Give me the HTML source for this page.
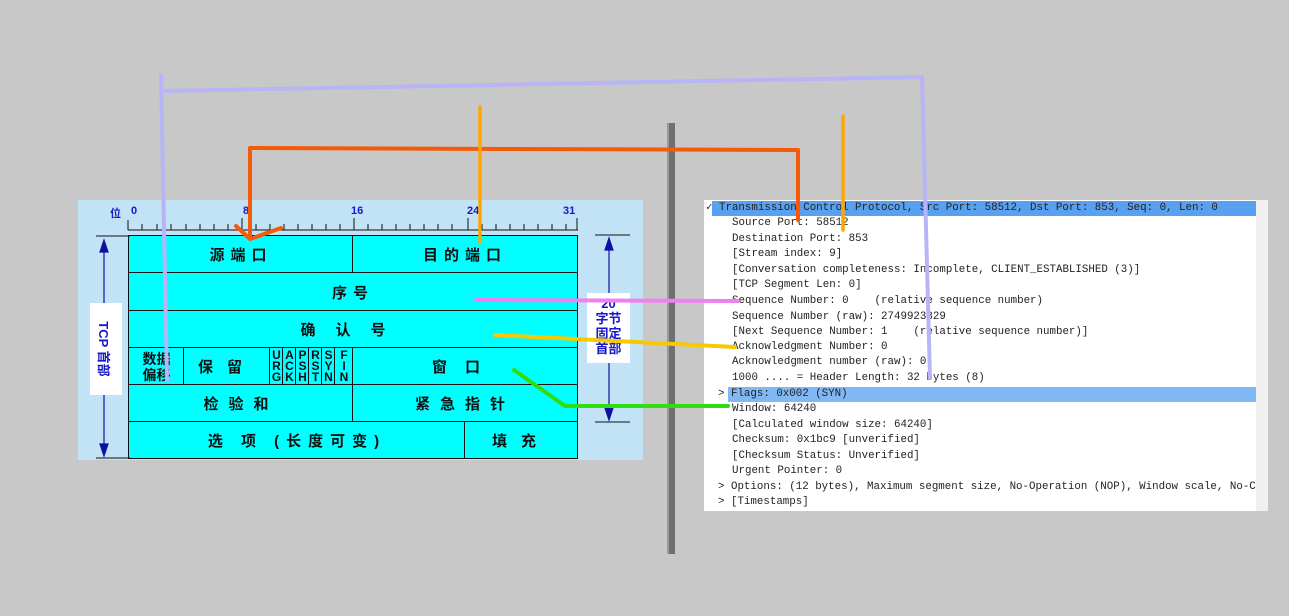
<!DOCTYPE html>
<html><head><meta charset="utf-8"><style>
body{margin:0;width:1289px;height:616px;background:#c8c8c8;position:relative;overflow:hidden;font-family:"Liberation Sans","Noto Sans CJK SC",sans-serif}
.a{position:absolute}
#left{left:78px;top:200px;width:565px;height:260px;background:#c2e2f6}
.c{position:absolute;background:#00ffff;border:1.5px solid #111;box-sizing:border-box;display:flex;align-items:center;justify-content:center;font-weight:bold;font-size:15px;color:#111;letter-spacing:6px}
.f{letter-spacing:0;font-size:12px;line-height:11px;text-align:center}
#right{left:704px;top:200px;width:564px;height:311px;background:#fff;font-family:"Liberation Mono",monospace;font-size:10.8px;color:#222}
.l{position:absolute;left:28px;white-space:pre;height:15px;line-height:15px}
.n{color:#1818c8;font-weight:bold;font-size:11px}
</style></head><body>
<div class="a" style="left:667px;top:123px;width:6px;height:431px;background:#707070;border-left:2px solid #999"></div>
<div id="left" class="a">
<div class="a n" style="left:32px;top:5px">位</div>
<div class="a n" style="left:53px;top:5px">0</div>
<div class="a n" style="left:165px;top:5px">8</div>
<div class="a n" style="left:273px;top:5px">16</div>
<div class="a n" style="left:389px;top:5px">24</div>
<div class="a n" style="left:485px;top:5px">31</div>
<div class="c" style="left:50px;top:35px;width:226px;height:39px">源端口</div>
<div class="c" style="left:274px;top:35px;width:226px;height:39px">目的端口</div>
<div class="c" style="left:50px;top:72px;width:450px;height:40px">序号</div>
<div class="c" style="left:50px;top:110px;width:450px;height:39px;letter-spacing:20px">确认号</div>
<div class="c f" style="left:50px;top:147px;width:57px;height:39px;font-size:14px;line-height:16px">数据<br>偏移</div>
<div class="c" style="left:105px;top:147px;width:88px;height:39px;letter-spacing:14px">保留</div>
<div class="c f" style="left:191px;top:147px;width:15px;height:39px">U<br>R<br>G</div>
<div class="c f" style="left:204px;top:147px;width:15px;height:39px">A<br>C<br>K</div>
<div class="c f" style="left:217px;top:147px;width:15px;height:39px">P<br>S<br>H</div>
<div class="c f" style="left:230px;top:147px;width:15px;height:39px">R<br>S<br>T</div>
<div class="c f" style="left:243px;top:147px;width:15px;height:39px">S<br>Y<br>N</div>
<div class="c f" style="left:256px;top:147px;width:20px;height:39px">F<br>I<br>N</div>
<div class="c" style="left:274px;top:147px;width:226px;height:39px;letter-spacing:18px">窗口</div>
<div class="c" style="left:50px;top:184px;width:226px;height:39px;letter-spacing:10px">检验和</div>
<div class="c" style="left:274px;top:184px;width:226px;height:39px;letter-spacing:10px">紧急指针</div>
<div class="c" style="left:50px;top:221px;width:338px;height:38px;letter-spacing:7px">选 项 (长度可变)</div>
<div class="c" style="left:386px;top:221px;width:114px;height:38px;letter-spacing:14px">填充</div>
<div class="a" style="left:12px;top:103px;width:32px;height:92px;background:#fff"></div>
<div class="a n" style="left:-18px;top:141px;width:92px;height:16px;text-align:center;font-size:13px;transform:rotate(90deg);white-space:nowrap">TCP 首部</div>
<div class="a n" style="left:509px;top:93px;width:43px;height:70px;background:#fff;text-align:center;font-size:13px;line-height:15px;overflow:hidden"><div style="margin-top:3px">20<br>字节<br>固定<br>首部</div></div>
</div>
<svg class="a" style="left:0;top:0" width="1289" height="616">
<g stroke="#111" stroke-width="1">
<line x1="128" y1="230" x2="578" y2="230"/>
<path d="M128 220V230 M242 218V230 M354 218V230 M468 218V230 M577 218V230"/>
<path d="M142 224V230M157 224V230M171 224V230M186 224V230M200 224V230M214 224V230M228 224V230M256 224V230M270 224V230M284 224V230M298 224V230M312 224V230M326 224V230M340 224V230M368 224V230M382 224V230M396 224V230M410 224V230M424 224V230M438 224V230M452 224V230M482 224V230M496 224V230M510 224V230M524 224V230M538 224V230M552 224V230M566 224V230"/>
<path d="M96 236H130 M96 458H130 M595 235H630 M595 422H630"/>
</g>
<g stroke="#1010a0" stroke-width="1.2" fill="#1010a0">
<line x1="104" y1="242" x2="104" y2="303"/><line x1="104" y1="395" x2="104" y2="452"/>
<path d="M100 252L104 240L108 252Z M100 444L104 456L108 444Z"/>
<line x1="609" y1="240" x2="609" y2="293"/><line x1="609" y1="363" x2="609" y2="418"/>
<path d="M605 250L609 238L613 250Z M605 408L609 420L613 408Z"/>
</g>
</svg>
<div id="right" class="a">
<div class="a" style="left:8px;top:1px;width:544px;height:15px;background:#5aa0f0"></div>
<div class="a" style="left:24px;top:187px;width:528px;height:15px;background:#80b8f5"></div>
<div class="a" style="left:552px;top:0;width:12px;height:311px;background:#f0f0f0"></div>
<div class="l" style="left:2px;top:1px">✓ Transmission Control Protocol, Src Port: 58512, Dst Port: 853, Seq: 0, Len: 0</div>
<div class="l" style="top:16px">Source Port: 58512</div>
<div class="l" style="top:32px">Destination Port: 853</div>
<div class="l" style="top:47px">[Stream index: 9]</div>
<div class="l" style="top:63px">[Conversation completeness: Incomplete, CLIENT_ESTABLISHED (3)]</div>
<div class="l" style="top:78px">[TCP Segment Len: 0]</div>
<div class="l" style="top:94px">Sequence Number: 0    (relative sequence number)</div>
<div class="l" style="top:110px">Sequence Number (raw): 2749923329</div>
<div class="l" style="top:125px">[Next Sequence Number: 1    (relative sequence number)]</div>
<div class="l" style="top:140px">Acknowledgment Number: 0</div>
<div class="l" style="top:155px">Acknowledgment number (raw): 0</div>
<div class="l" style="top:171px">1000 .... = Header Length: 32 bytes (8)</div>
<div class="l" style="left:14px;top:187px">&gt; Flags: 0x002 (SYN)</div>
<div class="l" style="top:202px">Window: 64240</div>
<div class="l" style="top:218px">[Calculated window size: 64240]</div>
<div class="l" style="top:233px">Checksum: 0x1bc9 [unverified]</div>
<div class="l" style="top:249px">[Checksum Status: Unverified]</div>
<div class="l" style="top:264px">Urgent Pointer: 0</div>
<div class="l" style="left:14px;top:280px;width:538px;overflow:hidden">&gt; Options: (12 bytes), Maximum segment size, No-Operation (NOP), Window scale, No-C</div>
<div class="l" style="left:14px;top:295px">&gt; [Timestamps]</div>
</div>
<svg class="a" style="left:0;top:0" width="1289" height="616" fill="none" stroke-linecap="round" stroke-linejoin="round">
<path d="M161 75L167 380 M162 91L922 77 M922 77L930 378" stroke="#b8b4f8" stroke-width="4"/>
<path d="M250 148L798 150 M250 148L250 238 M798 150L798 220 M236 226L250 239L281 228" stroke="#f45a08" stroke-width="4"/>
<path d="M480 107L480 242 M843 116L843 230" stroke="#ffa600" stroke-width="3.5"/>
<path d="M476 300L738 301" stroke="#f080f0" stroke-width="4"/>
<path d="M495 335L735 347" stroke="#f8c800" stroke-width="4"/>
<path d="M514 370L565 406L728 406" stroke="#30dd10" stroke-width="4"/>
</svg>
</body></html>
